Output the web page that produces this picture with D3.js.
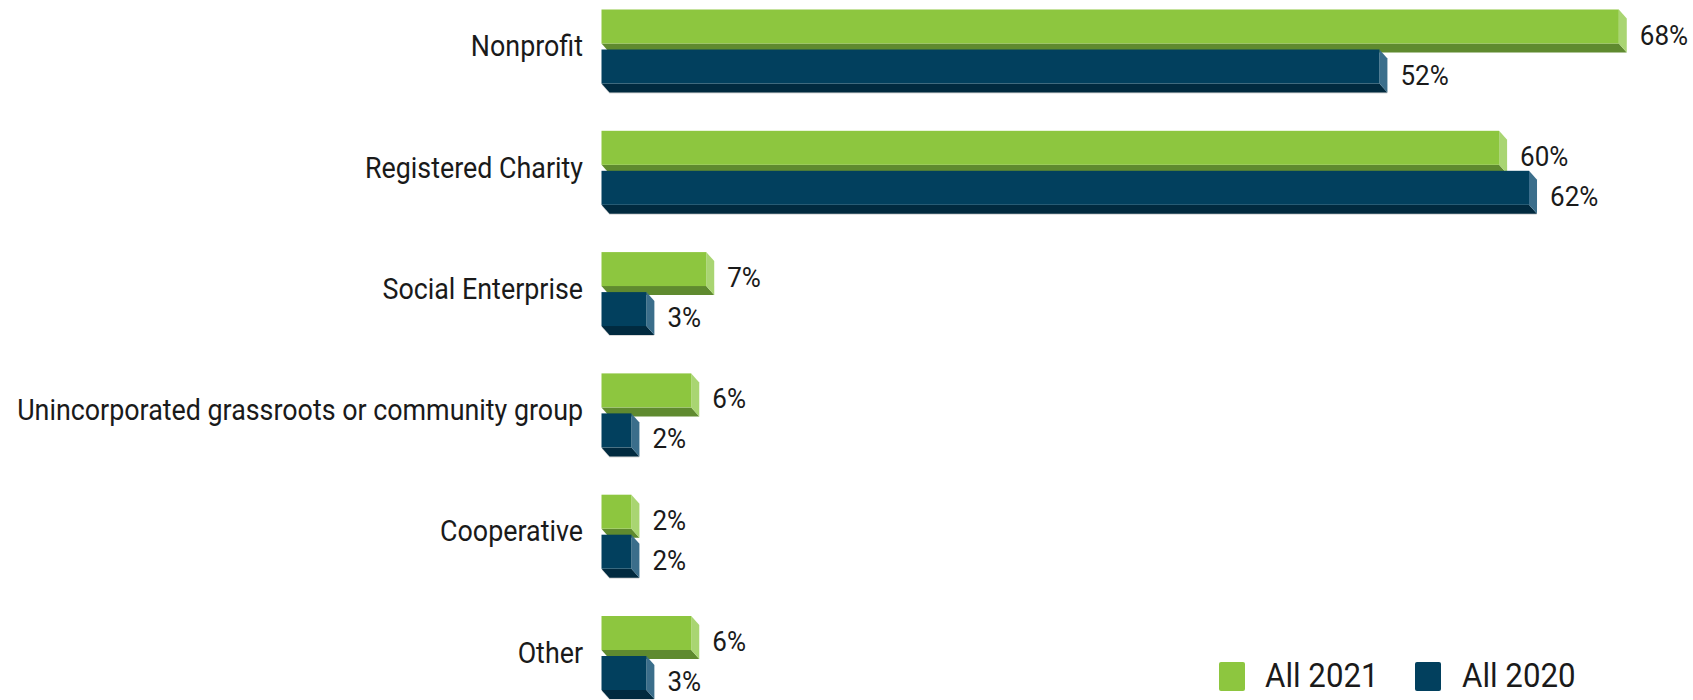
<!DOCTYPE html>
<html>
<head>
<meta charset="utf-8">
<script src="https://cdn.jsdelivr.net/npm/d3@7"></script>
<style>
  html, body { margin: 0; padding: 0; background: #ffffff; }
  svg { display: block; }
  text { font-family: Roboto, "Noto Sans", sans-serif; fill: #1a1a1a; }
</style>
</head>
<body>
<svg id="chart" width="1693" height="700"></svg>
<script>
const categories = ["Nonprofit", "Registered Charity", "Social Enterprise",
  "Unincorporated grassroots or community group", "Cooperative", "Other"];
const seriesNames = ["All 2021", "All 2020"];
const values2021 = [68, 60, 7, 6, 2, 6];
const values2020 = [52, 62, 3, 2, 2, 3];

const colors = {
  "All 2021": { front: "#8dc63f", bottom: "#5f8a2f", side: "#a9d572", legend: "#8dc63f" },
  "All 2020": { front: "#02405e", bottom: "#012a3f", side: "#3b6e8b", legend: "#02405e" }
};

const svg = d3.select("#chart");
const X0 = 601.5;

const x = d3.scaleLinear().domain([0, 100]).range([X0, X0 + 1496]);
const y = d3.scaleBand().domain(categories).range([9.5, 9.5 + 6 * 121.3]).paddingInner(0).paddingOuter(0);
const ys = d3.scaleBand().domain(seriesNames).range([0, 80]);
const barH = ys.bandwidth() * 0.85; // 34
const dx = 8, dy = 9;

const rows = [];
categories.forEach((c, i) => {
  rows.push({ cat: c, s: "All 2021", v: values2021[i] });
  rows.push({ cat: c, s: "All 2020", v: values2020[i] });
});

function txt(g, px, py, str, size, anchor, sx) {
  return g.append("text")
    .attr("transform", `translate(${px},${py}) scale(${sx},1)`)
    .attr("text-anchor", anchor)
    .style("font-size", size + "px")
    .text(str);
}

const gBars = svg.append("g");
rows.forEach(d => {
  const x0 = x(0), x1 = x(d.v);
  const y0 = y(d.cat) + ys(d.s), y1 = y0 + barH;
  const col = colors[d.s];
  const g = gBars.append("g");
  if (d.s === "All 2020") {
    g.append("path")
      .attr("d", `M${x0},${y1 + 1} L${x1},${y1 + 1} L${x1 + dx},${y1 + dy + 1} L${x0 + dx},${y1 + dy + 1} Z`)
      .attr("fill", "#c9c9c9").attr("opacity", 0.7);
  }
  g.append("path")
    .attr("d", `M${x0},${y1} L${x1},${y1} L${x1 + dx},${y1 + dy} L${x0 + dx},${y1 + dy} Z`)
    .attr("fill", col.bottom);
  g.append("path")
    .attr("d", `M${x1},${y0} L${x1 + dx},${y0 + dy} L${x1 + dx},${y1 + dy} L${x1},${y1} Z`)
    .attr("fill", col.side);
  g.append("rect")
    .attr("x", x0).attr("y", y0)
    .attr("width", x1 - x0).attr("height", barH)
    .attr("fill", col.front);
});

const gVals = svg.append("g");
rows.forEach(d => {
  const y0 = y(d.cat) + ys(d.s);
  txt(gVals, x(d.v) + 21, y0 + 35, d.v + "%", 28, "start", 0.93);
});

const gCats = svg.append("g");
categories.forEach(c => {
  txt(gCats, 583, y(c) + 46.7, c, 30, "end", 0.895);
});

const legend = svg.append("g");
const legendItems = [
  { name: "All 2021", rx: 1219, tx: 1265 },
  { name: "All 2020", rx: 1415, tx: 1462 }
];
legendItems.forEach(l => {
  legend.append("rect")
    .attr("x", l.rx).attr("y", 662).attr("width", 26).attr("height", 29)
    .attr("rx", 2).attr("fill", colors[l.name].legend);
  txt(legend, l.tx, 687, l.name, 34, "start", 0.92);
});
</script>
</body>
</html>
